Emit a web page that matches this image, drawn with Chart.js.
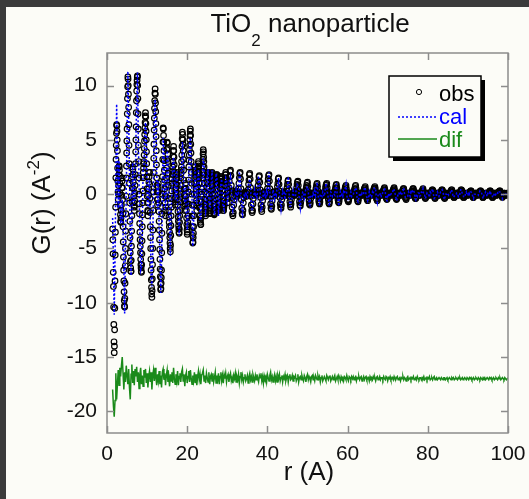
<!DOCTYPE html>
<html>
<head>
<meta charset="utf-8">
<script src="https://cdn.jsdelivr.net/npm/chart.js@4.4.0/dist/chart.umd.min.js"></script>
<style>
  html, body { margin: 0; padding: 0; background: #3b3b3b; }
  #wrap { position: absolute; left: 0; top: 0; width: 529px; height: 499px; }
</style>
</head>
<body>
<div id="wrap"><canvas id="chart" width="529" height="499"></canvas></div>
<script>
// r grid of the measured PDF (A)
const rStart = 1.4;
const rStep = 0.2;

const gObs = [
  -3.2, -8.5, -14.6, -8.0, 1.5, 6.4, 4.0, -0.5, 2.5, 1.0,
  -2.5, -1.0, 1.5, -3.0, -8.0, -10.4, -5.0, 1.5, 6.0, 10.8,
  8.0, 1.0, -5.4, -7.1, -2.0, 2.5, 0.5, -1.5, 0.8, 5.0,
  9.5, 10.9, 6.0, 0.0, -3.5, -6.0, -7.2, -3.0, 1.5, 3.0,
  5.5, 7.5, 5.0, 0.5, -2.0, 0.5, 2.0, -3.0, -7.0, -9.5,
  -5.0, 2.0, 7.0, 9.7, 6.5, 1.5, -1.0, 1.0, -2.5, -6.0,
  -8.8, -7.0, 0.0, 6.1, 4.0, 0.5, -2.0, 1.5, 4.8, 3.0,
  -1.5, -3.5, -5.3, -2.0, 1.0, 2.5, 4.4, 2.0, -1.0, 0.5,
  2.0, -0.5, -2.5, -3.6, -1.5, 1.5, 3.0, 5.7, 4.0, 0.5,
  -1.5, 1.0, -1.5, -3.7, -2.0, 2.5, 4.5, 6.0, 3.0, -1.0,
  -4.5, -3.0, 1.0, 2.5, 0.5, -1.5, 1.5, 3.0, 1.0, -2.0,
  -2.8, 0.0, 2.0, 4.1, 2.5, -0.5, -2.0, -0.5, 1.6, 2.0,
  0.0, -1.8, -1.0, 1.5, 2.0, 0.5, -1.5, -1.8, 0.0, 1.5,
  1.8, 0.0, -1.5, -1.2, 0.5, 1.6, 1.2, -0.5, -1.5, -1.0,
  0.8, 2.0, 1.0, -0.8,
  0.2, 0.6, 1.6, 2.2, 0.8, -1.2, -2.0, -1.0, -0.2, 0.3, 0.1, -0.2,
  0.1, 0.5, 1.5, 2.0, 0.5, -1.3, -1.9, -0.8, 0.0, 0.2, 0.0, -0.2,
  0.0, 0.4, 1.3, 1.9, 0.6, -1.0, -1.7, -0.9, -0.1, 0.2, 0.1, -0.1,
  0.1, 0.4, 1.2, 1.7, 0.4, -1.0, -1.6, -0.6, 0.0, 0.2, 0.0, -0.2,
  0.0, 0.5, 1.4, 1.8, 0.5, -0.9, -1.4, -0.6, 0.1, 0.2, 0.0, -0.1,
  0.1, 0.3, 1.0, 1.5, 0.3, -0.9, -1.3, -0.5, 0.0, 0.2, 0.1, -0.1,
  0.0, 0.3, 0.9, 1.3, 0.4, -0.7, -1.2, -0.5, 0.0, 0.1, 0.0, -0.1,
  0.1, 0.3, 0.9, 1.2, 0.3, -0.7, -1.1, -0.4, 0.0, 0.2, 0.0, -0.1,
  0.0, 0.3, 0.8, 1.1, 0.2, -0.6, -1.0, -0.4, 0.1, 0.1, 0.0, -0.1,
  0.1, 0.2, 0.7, 1.0, 0.3, -0.6, -0.9, -0.3, 0.0, 0.1, 0.0, -0.1,
  0.0, 0.3, 0.8, 1.0, 0.2, -0.5, -0.9, -0.3, 0.0, 0.1, 0.0, -0.1,
  0.1, 0.2, 0.6, 0.9, 0.2, -0.5, -0.8, -0.3, 0.0, 0.1, 0.0, -0.1,
  0.0, 0.2, 0.6, 0.8, 0.2, -0.5, -0.7, -0.2, 0.0, 0.1, 0.0, -0.1,
  0.1, 0.2, 0.5, 0.8, 0.2, -0.4, -0.7, -0.2, 0.0, 0.1, 0.0, -0.1,
  0.0, 0.2, 0.5, 0.7, 0.1, -0.4, -0.6, -0.2, 0.0, 0.1, 0.0, -0.1,
  0.1, 0.2, 0.5, 0.7, 0.2, -0.4, -0.6, -0.2, 0.0, 0.1, 0.0, -0.1,
  0.0, 0.1, 0.4, 0.6, 0.1, -0.3, -0.5, -0.2, 0.0, 0.1, 0.0, -0.1,
  0.1, 0.2, 0.4, 0.6, 0.1, -0.3, -0.5, -0.2, 0.0, 0.1, 0.0, -0.1,
  0.0, 0.1, 0.4, 0.5, 0.1, -0.3, -0.5, -0.1, 0.0, 0.1, 0.0, -0.1,
  0.1, 0.2, 0.4, 0.5, 0.1, -0.3, -0.4, -0.1, 0.0, 0.1, 0.0, -0.1,
  0.0, 0.1, 0.3, 0.5, 0.1, -0.2, -0.4, -0.1, 0.0, 0.1, 0.0, -0.1,
  0.1, 0.1, 0.3, 0.4, 0.1, -0.2, -0.4, -0.1, 0.0, 0.1, 0.0, -0.1,
  0.0, 0.1, 0.3, 0.4, 0.1, -0.2, -0.4, -0.1, 0.0, 0.1, 0.0, -0.1,
  0.1, 0.1, 0.3, 0.4, 0.0, -0.2, -0.3, -0.1, 0.0, 0.1, 0.0, -0.1,
  0.0, 0.1, 0.3, 0.4, 0.1, -0.2, -0.3, -0.1, 0.0, 0.1, 0.0, -0.1,
  0.1, 0.1, 0.2, 0.3, 0.0, -0.2, -0.3, -0.1, 0.0, 0.1, 0.0, -0.1,
  0.0, 0.1, 0.2, 0.3, 0.1, -0.2, -0.3, -0.1, 0.0, 0.1, 0.0, -0.1,
  0.1, 0.1, 0.2, 0.3, 0.0, -0.2, -0.3, -0.1, 0.0, 0.1, 0.0, -0.1,
  0.0, 0.1, 0.2, 0.3, 0.1, -0.1, -0.3, -0.1, 0.0, 0.1, 0.0, -0.1,
  0.1, 0.0
];

// observed points half way between grid points, r = 1.5, 1.7 ... 99.9
const gObsMid = [
  -5.5, -12.0, -12.5, -3.5, 4.5, 5.8, 1.2, 0.8, 2.2, -1.0,
  -2.2, 0.6, -0.5, -5.8, -9.8, -8.2, -1.8, 3.8, 8.8, 10.0,
  4.5, -2.5, -6.8, -4.8, 0.6, 1.8, -0.8, -0.6, 2.8, 7.5,
  10.5, 8.8, 3.0, -1.8, -4.8, -6.8, -5.5, -0.8, 2.4, 4.2,
  6.6, 6.5, 2.8, -0.8, -0.8, 1.6, -0.4, -5.0, -8.6, -7.8,
  -1.5, 4.6, 8.6, 8.4, 4.0, 0.2, 0.2, -0.8, -4.2, -7.6,
  -8.2, -3.6, 3.2, 5.4, 2.2, -0.8, -0.2, 3.2, 4.2, 0.8,
  -2.6, -4.5, -3.8, -0.4, 1.8, 3.5, 3.4, 0.4, -0.3, 1.4,
  0.8, -1.6, -3.2, -2.6, 0.0, 2.2, 4.4, 5.0, 2.2, -0.6,
  -0.2, -0.2, -2.8, -3.0, 0.2, 3.6, 5.4, 4.6, 1.0, -3.0,
  -4.0, -1.0, 1.8, 1.6, -0.6, 0.0, 2.4, 2.0, -0.6, -2.6,
  -1.4, 1.0, 3.2, 3.4, 1.0, -1.4, -1.2, 0.6, 1.9, 1.0,
  -1.0, -1.5, 0.3, 1.8, 1.2, -0.6, -1.8, -0.9, 0.8, 1.7,
  0.9, -0.8, -1.4, -0.3, 1.1, 1.5, 0.3, -1.0, -1.3, -0.1,
  1.5, 1.5, 0.1, -0.4,
  0.3, 1.2, 2.1, 1.7, -0.3, -1.8, -1.7, -0.5, 0.1, 0.2, 0.0, -0.1,
  0.2, 1.0, 1.9, 1.4, -0.5, -1.8, -1.5, -0.3, 0.1, 0.1, -0.1, -0.1,
  0.2, 0.9, 1.8, 1.4, -0.2, -1.5, -1.5, -0.4, 0.1, 0.2, 0.0, 0.0,
  0.2, 0.8, 1.6, 1.1, -0.3, -1.4, -1.2, -0.2, 0.1, 0.1, -0.1, -0.1,
  0.2, 1.0, 1.7, 1.2, -0.2, -1.3, -1.1, -0.2, 0.2, 0.1, -0.1, 0.0,
  0.2, 0.7, 1.4, 0.9, -0.3, -1.2, -1.0, -0.2, 0.1, 0.2, 0.0, -0.1,
  0.1, 0.6, 1.2, 0.9, -0.2, -1.0, -0.9, -0.2, 0.1, 0.1, -0.1, 0.0,
  0.2, 0.6, 1.1, 0.8, -0.2, -1.0, -0.8, -0.1, 0.1, 0.1, -0.1, 0.0,
  0.1, 0.6, 1.0, 0.7, -0.2, -0.9, -0.8, -0.1, 0.1, 0.0, -0.1, 0.0,
  0.1, 0.5, 0.9, 0.7, -0.2, -0.8, -0.7, -0.1, 0.1, 0.1, -0.1, 0.0,
  0.1, 0.6, 0.9, 0.6, -0.2, -0.8, -0.7, -0.1, 0.1, 0.0, -0.1, 0.0,
  0.1, 0.4, 0.8, 0.6, -0.2, -0.7, -0.6, -0.1, 0.1, 0.1, -0.1, 0.0,
  0.1, 0.4, 0.7, 0.5, -0.2, -0.6, -0.5, -0.1, 0.1, 0.0, -0.1, 0.0,
  0.1, 0.4, 0.7, 0.5, -0.1, -0.6, -0.5, -0.1, 0.1, 0.1, -0.1, 0.0,
  0.1, 0.4, 0.6, 0.4, -0.2, -0.5, -0.4, -0.1, 0.1, 0.0, -0.1, 0.0,
  0.1, 0.4, 0.6, 0.5, -0.1, -0.5, -0.4, -0.1, 0.1, 0.1, -0.1, 0.0,
  0.1, 0.3, 0.5, 0.4, -0.1, -0.4, -0.4, -0.1, 0.1, 0.0, -0.1, 0.0,
  0.1, 0.3, 0.5, 0.4, -0.1, -0.4, -0.4, -0.1, 0.1, 0.1, -0.1, 0.0,
  0.1, 0.3, 0.5, 0.3, -0.1, -0.4, -0.3, 0.0, 0.1, 0.0, -0.1, 0.0,
  0.1, 0.3, 0.5, 0.3, -0.1, -0.4, -0.3, 0.0, 0.1, 0.1, -0.1, 0.0,
  0.1, 0.2, 0.4, 0.3, -0.1, -0.3, -0.3, 0.0, 0.1, 0.0, -0.1, 0.0,
  0.1, 0.2, 0.4, 0.3, -0.1, -0.3, -0.3, 0.0, 0.1, 0.1, -0.1, 0.0,
  0.1, 0.2, 0.4, 0.3, -0.1, -0.3, -0.3, 0.0, 0.1, 0.0, -0.1, 0.0,
  0.1, 0.2, 0.4, 0.2, -0.1, -0.3, -0.2, 0.0, 0.1, 0.1, -0.1, 0.0,
  0.1, 0.2, 0.4, 0.3, -0.1, -0.3, -0.2, 0.0, 0.1, 0.0, -0.1, 0.0,
  0.1, 0.2, 0.3, 0.2, -0.1, -0.3, -0.2, 0.0, 0.1, 0.1, -0.1, 0.0,
  0.1, 0.2, 0.3, 0.2, -0.1, -0.3, -0.2, 0.0, 0.1, 0.0, -0.1, 0.0,
  0.1, 0.2, 0.3, 0.2, -0.1, -0.3, -0.2, 0.0, 0.1, 0.1, -0.1, 0.0,
  0.1, 0.2, 0.3, 0.2, 0.0, -0.2, -0.2, 0.0, 0.1, 0.0, -0.1, 0.0,
  0.1
];

// extra observed points in the dense low-r region, r = 1.45, 1.55 ... 29.95
const gObsFine = [
  -4.2, -7.2, -10.4, -13.6, -14.0, -10.5, -5.6, -1.2, 3.2, 5.6,
  6.3, 5.0, 2.4, 0.2, 0.0, 1.8, 2.6, 1.7, 0.1, -1.9,
  -2.6, -1.5, -0.1, 1.2, 0.6, -1.8, -4.4, -7.0, -9.0, -10.3,
  -9.6, -6.6, -3.4, -0.2, 2.6, 4.9, 7.4, 9.9, 10.6, 9.2,
  6.4, 2.8, -0.8, -4.0, -6.2, -7.1, -6.1, -3.4, -0.7, 1.6,
  2.3, 1.1, -0.2, -1.2, -1.1, 0.1, 1.8, 3.9, 6.2, 8.6,
  10.1, 10.8, 10.0, 7.4, 4.5, 1.5, -0.9, -2.7, -4.2, -5.4,
  -6.5, -7.1, -6.5, -4.3, -1.9, 0.3, 2.0, 2.8, 3.6, 4.9,
  6.1, 7.2, 7.1, 5.8, 3.9, 1.6, -0.2, -1.5, -1.6, -0.1,
  1.1, 2.0, 0.9, -1.7, -4.0, -6.0, -7.9, -9.2, -8.9, -6.5,
  -3.3, 0.2, 3.3, 5.9, 7.9, 9.3, 9.2, 7.6, 5.3, 2.7,
  0.8, -0.5, -0.5, 0.7, 0.2, -1.6, -3.3, -5.1, -6.9, -8.3,
  -8.7, -7.7, -5.4, -1.8, 1.6, 4.8, 6.0, 4.8, 3.1, 1.3,
  -0.2, -1.5, -1.2, 0.7, 2.4, 4.1, 4.7, 3.7, 1.9, -0.4,
  -2.1, -3.0, -4.0, -5.0, -4.7, -2.9, -1.2, 0.3, 1.4, 2.1,
  3.0, 4.0, 4.0, 2.7, 1.2, -0.4, -0.7, 0.1, 0.9, 1.8,
  1.5, 0.1, -1.0, -2.1, -2.9, -3.5, -3.2, -2.0, -0.7, 0.8,
  1.9, 2.5, 3.6, 5.1, 5.5, 4.6, 3.2, 1.3, -0.1, -1.1,
  -0.9, 0.5, 0.5, -0.8, -2.2, -3.3, -3.5, -2.6, -0.9, 1.3,
  3.1, 4.1, 5.0, 5.8, 5.4, 3.8, 2.0, 0.0, -2.0, -3.8,
  -4.4, -3.6, -2.0, 0.0, 1.5, 2.2, 2.1, 1.0, 0.0, -1.1,
  -0.8, 0.7, 2.0, 2.8, 2.6, 1.5, 0.2, -1.3, -2.4, -2.8,
  -2.2, -0.7, 0.5, 1.5, 2.6, 3.7, 3.9, 3.0, 1.8, 0.2,
  -1.0, -1.8, -1.7, -0.9, 0.0, 1.1, 1.8, 2.0, 1.5, 0.5,
  -0.5, -1.5, -1.7, -1.3, -0.4, 0.9, 1.7, 1.9, 1.6, 0.9,
  0.0, -1.1, -1.7, -1.9, -1.4, -0.4, 0.4, 1.2, 1.6, 1.8,
  1.4, 0.5, -0.4, -1.2, -1.5, -1.3, -0.8, 0.1, 0.8, 1.4,
  1.6, 1.4, 0.8, -0.1, -0.8, -1.3, -1.5, -1.2, -0.6, 0.3,
  1.2, 1.8, 1.8, 1.3, 0.6, -0.3
];

// difference obs - cal on the main grid
const gDif = [
  -1.0, -2.5, -3.5, -2.0, 0.5, -1.9, -0.5, 0.8, -0.6, 1.0,
  0.2, 1.2, 2.0, 0.5, -1.0, 0.6, -0.3, 1.2, 0.3, -0.5,
  0.9, -0.8, -1.9, 0.4, 1.3, -0.4, 0.7, -0.6, 0.9, 0.2,
  1.1, -0.3, 0.6, -0.9, 0.4, 1.0, -0.5, 0.3, -0.7, 0.8,
  0.1, 0.9, -0.4, 0.5, -0.8, 0.2, 0.7, -0.3, 0.6, -1.0,
  0.3, 0.8, -0.2, 1.0, 0.1, -0.6, 0.4, -0.2, 0.7, -0.5,
  0.3, -0.8, 0.6, 0.9, -0.1, 0.5, -0.6, 0.3, 0.8, -0.3,
  0.2, -0.7, 0.4, -0.2, 0.6, -0.4, 1.0, 0.0, -0.5, 0.4,
  -0.2, 0.7, -0.6, 0.2, 0.5, -0.3, 0.6, 0.9, -0.2, 0.4,
  -0.7, 0.3, 0.6, -0.4, 0.2, 0.7, -0.3, 0.8, 0.0, -0.5,
  0.3, -0.2, 0.6, -0.4, 0.4, -0.6, 0.2, 0.7, -0.1, 0.4,
  -0.5, 0.3, 0.5, 0.8, -0.2, 0.3, -0.4, 0.5, 0.1, -0.3,
  0.6, -0.5, 0.2, 0.4, -0.2, 0.5, -0.3, 0.1, 0.6, -0.4,
  0.3, -0.1, 0.5, -0.5, 0.2, 0.6, -0.2, 0.3, -0.4, 0.4,
  0.0, 0.5, -0.3, 0.2,
  0.4, -0.3, 0.2, 0.5, -0.2, 0.1, -0.4, 0.3, 0.0, 0.5, -0.3, 0.2,
  -0.1, 0.4, -0.4, 0.2, 0.6, -0.1, 0.3, -0.3, 0.1, 0.4, -0.2, 0.0,
  0.3, -0.4, 0.2, 0.5, -0.1, 0.2, -0.3, 0.4, 0.1, -0.2, 0.3, -0.1,
  0.4, 0.0, -0.3, 0.3, 0.1, 0.5, -0.2, 0.2, -0.4, 0.3, 0.0, 0.2,
  -0.3, 0.4, 0.1, -0.2, 0.3, 0.6, -0.1, 0.2, -0.3, 0.1, 0.4, -0.2,
  0.2, -0.3, 0.3, 0.0, 0.4, -0.2, 0.1, 0.3, -0.3, 0.2, 0.0, 0.4,
  -0.2, 0.1, 0.3, -0.3, 0.2, 0.4, -0.1, 0.0, 0.3, -0.2, 0.2, 0.1,
  0.3, -0.2, 0.0, 0.4, -0.3, 0.1, 0.2, -0.1, 0.3, 0.0, -0.2, 0.3,
  0.1, -0.3, 0.2, 0.4, -0.1, 0.2, 0.0, -0.3, 0.2, 0.3, -0.1, 0.1,
  -0.2, 0.3, 0.1, -0.1, 0.3, 0.0, 0.2, -0.3, 0.1, 0.3, -0.2, 0.0,
  0.2, 0.0, -0.2, 0.3, 0.1, -0.1, 0.2, 0.3, -0.2, 0.0, 0.2, -0.1,
  0.1, 0.3, -0.2, 0.0, 0.2, -0.1, 0.3, 0.1, -0.2, 0.2, 0.0, 0.1,
  -0.2, 0.2, 0.1, -0.1, 0.3, 0.0, -0.2, 0.2, 0.1, -0.1, 0.2, 0.0,
  0.2, -0.1, 0.1, 0.2, -0.2, 0.1, 0.0, 0.2, -0.1, 0.1, 0.2, -0.2,
  0.0, 0.2, -0.1, 0.1, 0.2, -0.1, 0.0, 0.1, -0.2, 0.2, 0.0, 0.1,
  -0.1, 0.2, 0.0, 0.1, -0.2, 0.1, 0.2, -0.1, 0.0, 0.2, -0.1, 0.1,
  0.1, -0.1, 0.2, 0.0, -0.1, 0.2, 0.1, -0.2, 0.1, 0.0, 0.2, -0.1,
  0.0, 0.1, -0.1, 0.2, 0.0, -0.1, 0.1, 0.2, -0.1, 0.0, 0.1, -0.2,
  0.1, 0.0, 0.2, -0.1, 0.1, 0.0, -0.2, 0.1, 0.2, -0.1, 0.0, 0.1,
  -0.1, 0.1, 0.0, 0.2, -0.1, 0.0, 0.1, -0.1, 0.2, 0.0, -0.1, 0.1,
  0.1, -0.1, 0.1, 0.0, 0.2, -0.1, 0.0, 0.1, -0.1, 0.1, 0.0, 0.2,
  -0.1, 0.0, 0.1, -0.1, 0.1, 0.2, -0.1, 0.0, 0.1, -0.1, 0.0, 0.1,
  0.0, -0.1, 0.1, 0.0, -0.1, 0.1, 0.1, -0.1, 0.0, 0.1, -0.1, 0.0,
  0.1, 0.0, -0.1, 0.1, 0.0, 0.1, -0.1, 0.0, 0.1, 0.0, -0.1, 0.1,
  0.0, 0.1, -0.1, 0.0, 0.1, -0.1, 0.0, 0.1, 0.0, -0.1, 0.1, 0.0,
  -0.1, 0.1, 0.0, 0.1, -0.1, 0.0, 0.1, -0.1, 0.0, 0.1, 0.0, -0.1,
  0.1, 0.0, -0.1, 0.1, 0.0, -0.1, 0.1, 0.0, 0.1, -0.1, 0.0, 0.1,
  0.0, -0.1, 0.1, 0.0, 0.1, -0.1, 0.0, 0.1, -0.1, 0.0, 0.1, 0.0,
  -0.1, 0.1, 0.0, 0.1, -0.1, 0.0, 0.1, 0.0, -0.1, 0.1, 0.0, -0.1,
  0.0, 0.1
];

// the difference curve is shifted down for display
const difOffset = -17;

const xTickValues = [0, 20, 40, 60, 80, 100];
const yTickValues = [-20, -15, -10, -5, 0, 5, 10];

const FONT = '"Liberation Sans", Arial, Helvetica, sans-serif';

(function () {
    'use strict';

    const obsPts = [];
    const calPts = [];
    const difPts = [];
    gObs.forEach(function (g, i) {
        const r = +(rStart + i * rStep).toFixed(2);
        obsPts.push({ x: r, y: g });
        calPts.push({ x: r, y: g - gDif[i] });
        difPts.push({ x: r, y: gDif[i] + difOffset });
    });
    gObsMid.forEach(function (g, i) {
        obsPts.push({ x: +(rStart + rStep / 2 + i * rStep).toFixed(2), y: g });
    });
    gObsFine.forEach(function (g, i) {
        obsPts.push({ x: +(rStart + rStep / 4 + i * rStep / 2).toFixed(3), y: g });
    });

    // page background, frame, inward ticks, titles and the boxed legend
    const decor = {
        id: 'decor',
        beforeDraw: function (chart) {
            const ctx = chart.ctx;
            ctx.save();
            ctx.fillStyle = '#3b3b3b';
            ctx.fillRect(0, 0, chart.width, chart.height);
            ctx.fillStyle = '#fcfcf7';
            ctx.fillRect(6, 7, chart.width - 6, chart.height - 7);
            ctx.restore();
        },
        afterDraw: function (chart) {
            const ctx = chart.ctx;
            const a = chart.chartArea;
            const xs = chart.scales.x;
            const ys = chart.scales.y;
            ctx.save();

            // frame
            ctx.strokeStyle = '#8c8c8c';
            ctx.lineWidth = 1.5;
            ctx.strokeRect(a.left, a.top, a.right - a.left, a.bottom - a.top);

            // inward ticks on all four sides
            ctx.beginPath();
            xTickValues.forEach(function (v) {
                const px = Math.round(xs.getPixelForValue(v)) + 0.5;
                ctx.moveTo(px, a.bottom); ctx.lineTo(px, a.bottom - 7);
                ctx.moveTo(px, a.top); ctx.lineTo(px, a.top + 7);
            });
            yTickValues.forEach(function (v) {
                const py = Math.round(ys.getPixelForValue(v)) + 0.5;
                ctx.moveTo(a.left, py); ctx.lineTo(a.left + 7, py);
                ctx.moveTo(a.right, py); ctx.lineTo(a.right - 7, py);
            });
            ctx.stroke();

            ctx.fillStyle = '#111';
            ctx.textBaseline = 'alphabetic';

            // title with subscript
            const big = '26px ' + FONT;
            const small = '17px ' + FONT;
            ctx.font = big;
            const w1 = ctx.measureText('TiO').width;
            const w3 = ctx.measureText(' nanoparticle').width;
            ctx.font = small;
            const w2 = ctx.measureText('2').width;
            const tx = 310 - (w1 + w2 + w3) / 2;
            ctx.font = big;
            ctx.textAlign = 'left';
            ctx.fillText('TiO', tx, 32);
            ctx.font = small;
            ctx.fillText('2', tx + w1, 46);
            ctx.font = big;
            ctx.fillText(' nanoparticle', tx + w1 + w2, 32);

            // x axis title
            ctx.textAlign = 'center';
            ctx.fillText('r (A)', 309, 480);

            // y axis title with superscript, rotated
            ctx.save();
            ctx.translate(50, 203);
            ctx.rotate(-Math.PI / 2);
            ctx.font = big;
            const p1 = ctx.measureText('G(r) (A').width;
            const p3 = ctx.measureText(')').width;
            ctx.font = small;
            const p2 = ctx.measureText('-2').width;
            const yx = -(p1 + p2 + p3) / 2;
            ctx.textAlign = 'left';
            ctx.font = big;
            ctx.fillText('G(r) (A', yx, 0);
            ctx.font = small;
            ctx.fillText('-2', yx + p1, -11);
            ctx.font = big;
            ctx.fillText(')', yx + p1 + p2, 0);
            ctx.restore();

            // legend box with drop shadow
            const lx = 389, ly = 76, lw = 92, lh = 81;
            ctx.fillStyle = '#000';
            ctx.fillRect(lx + 4, ly + 4, lw, lh);
            ctx.fillStyle = '#fcfcf7';
            ctx.fillRect(lx, ly, lw, lh);
            ctx.strokeStyle = '#000';
            ctx.lineWidth = 1.5;
            ctx.strokeRect(lx, ly, lw, lh);

            ctx.font = '22px ' + FONT;
            ctx.textAlign = 'left';
            ctx.lineWidth = 1;
            ctx.beginPath();
            ctx.arc(419, 92, 2.6, 0, Math.PI * 2);
            ctx.strokeStyle = '#000';
            ctx.stroke();
            ctx.fillStyle = '#000';
            ctx.fillText('obs', 439, 101);

            ctx.strokeStyle = '#0000ff';
            ctx.setLineDash([2, 2]);
            ctx.lineWidth = 1.5;
            ctx.beginPath();
            ctx.moveTo(398, 117); ctx.lineTo(437, 117);
            ctx.stroke();
            ctx.setLineDash([]);
            ctx.fillStyle = '#0000ff';
            ctx.fillText('cal', 439, 124);

            ctx.strokeStyle = '#1a8a1a';
            ctx.beginPath();
            ctx.moveTo(398, 139); ctx.lineTo(437, 139);
            ctx.stroke();
            ctx.fillStyle = '#1a8a1a';
            ctx.fillText('dif', 439, 147);

            ctx.restore();
        }
    };

    const tickFont = { family: FONT, size: 21 };

    new Chart(document.getElementById('chart'), {
        type: 'scatter',
        data: {
            datasets: [
                {
                    label: 'cal',
                    data: calPts,
                    showLine: true,
                    borderColor: '#0000ff',
                    borderWidth: 1.5,
                    borderDash: [2, 2],
                    pointRadius: 0,
                    order: 0
                },
                {
                    label: 'obs',
                    data: obsPts,
                    showLine: false,
                    pointRadius: 2.8,
                    pointBorderWidth: 1.2,
                    pointBorderColor: '#000',
                    pointBackgroundColor: 'rgba(0,0,0,0)',
                    order: 1
                },
                {
                    label: 'dif',
                    data: difPts,
                    showLine: true,
                    borderColor: '#1a8a1a',
                    borderWidth: 1.5,
                    pointRadius: 0,
                    order: 2
                }
            ]
        },
        options: {
            responsive: false,
            animation: false,
            layout: { padding: { left: 0, right: 21, top: 53, bottom: 0 } },
            plugins: {
                legend: { display: false },
                title: { display: false },
                tooltip: { enabled: false }
            },
            scales: {
                x: {
                    type: 'linear',
                    min: 0,
                    max: 100,
                    afterFit: function (s) {
                        s.height = 66;
                        s.paddingLeft = 0;
                        s.paddingRight = 0;
                    },
                    afterBuildTicks: function (s) {
                        s.ticks = xTickValues.map(function (v) { return { value: v }; });
                    },
                    grid: { display: false, drawTicks: false },
                    border: { display: false },
                    ticks: { font: tickFont, color: '#111', padding: 9, maxRotation: 0 }
                },
                y: {
                    type: 'linear',
                    min: -22,
                    max: 13,
                    afterFit: function (s) {
                        s.width = 107;
                        s.paddingTop = 0;
                        s.paddingBottom = 0;
                    },
                    afterBuildTicks: function (s) {
                        s.ticks = yTickValues.map(function (v) { return { value: v }; });
                    },
                    grid: { display: false, drawTicks: false },
                    border: { display: false },
                    ticks: { font: tickFont, color: '#111', padding: 10 }
                }
            }
        },
        plugins: [decor]
    });
})();
</script>
</body>
</html>
